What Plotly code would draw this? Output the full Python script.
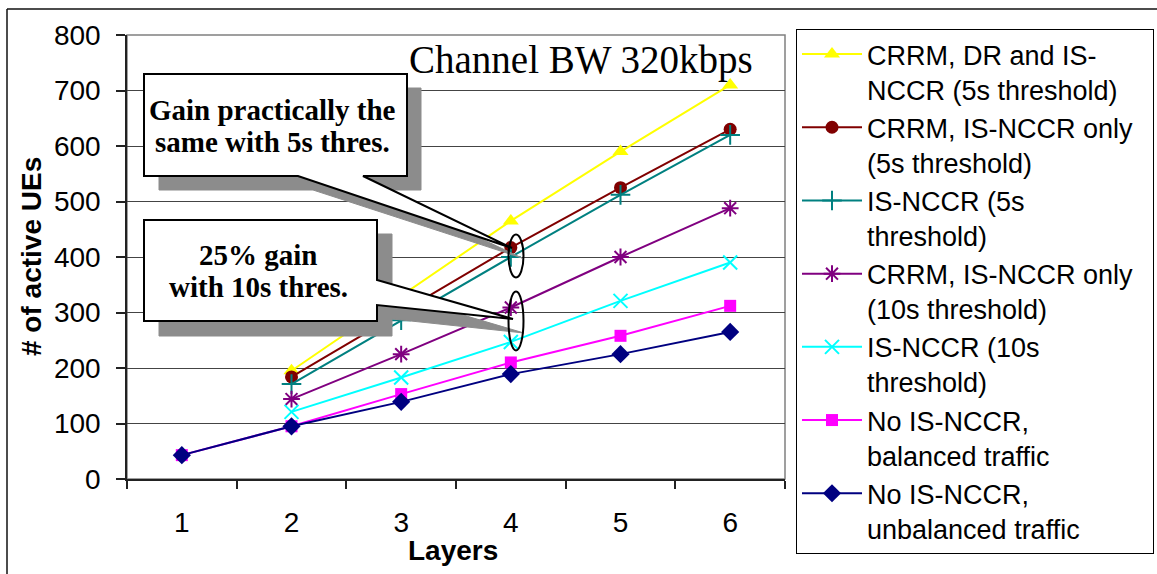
import plotly.graph_objects as go

# ---------------- data ----------------
layers = [1, 2, 3, 4, 5, 6]
tick_labels = ["1", "2", "3", "4", "5", "6"]

crrm_dr_isnccr_5s = [None, 195, 330, 465, 590, 710]
crrm_isnccr_5s = [None, 184, 300, 417, 525, 630]
isnccr_5s = [None, 171, 286, 400, 512, 620]
crrm_isnccr_10s = [None, 144, 225, 309, 400, 488]
isnccr_10s = [None, 121, 183, 247, 321, 390]
no_isnccr_balanced = [43, 95, 153, 210, 258, 312]
no_isnccr_unbalanced = [43, 95, 139, 189, 225, 265]

series_names = [
    "CRRM, DR and IS-<br>NCCR (5s threshold)",
    "CRRM, IS-NCCR only&nbsp;&nbsp;<br>(5s threshold)",
    "IS-NCCR (5s<br>threshold)",
    "CRRM, IS-NCCR only&nbsp;&nbsp;<br>(10s threshold)",
    "IS-NCCR (10s<br>threshold)",
    "No IS-NCCR,<br>balanced traffic",
    "No IS-NCCR,<br>unbalanced traffic",
]
series_values = [crrm_dr_isnccr_5s, crrm_isnccr_5s, isnccr_5s, crrm_isnccr_10s,
                 isnccr_10s, no_isnccr_balanced, no_isnccr_unbalanced]

# ---------------- styles ----------------
colors = ["#FFFF00", "#800000", "#008080", "#800080", "#00FFFF", "#FF00FF", "#000080"]
symbols = ["triangle-up", "circle", "cross-thin-open", "asterisk-open",
           "x-thin-open", "square", "diamond"]
sizes = [14, 13, 14, 14, 14, 12, 14]

W, H = 1157, 574
ML, MR, MT, MB = 127, 372, 35, 95
PW, PH = W - ML - MR, H - MT - MB
XR = (0.5, 6.5)
YR = (0, 800)

SANS = "Liberation Sans, Arial, sans-serif"
SERIF = "Liberation Serif, Times New Roman, serif"


def px2x(px):
    return XR[0] + (px - ML) / PW * (XR[1] - XR[0])


def py2y(py):
    return YR[0] + (MT + PH - py) / PH * (YR[1] - YR[0])


def ppx(px):
    return (px - ML) / PW


def ppy(py):
    return (MT + PH - py) / PH


def path(points):
    s = "M " + " L ".join(f"{px2x(a):.5f},{py2y(b):.5f}" for a, b in points) + " Z"
    return s


fig = go.Figure()
for name, vals, c, sym, sz in zip(series_names, series_values, colors, symbols, sizes):
    open_sym = sym.endswith("open")
    fig.add_trace(go.Scatter(
        x=layers, y=vals, name=name, mode="lines+markers",
        line=dict(color=c, width=2),
        marker=dict(symbol=sym, size=sz, color=c,
                    line=dict(color=c, width=2 if open_sym else 0)),
    ))

shapes = []
# plot-area frame (gray)
shapes.append(dict(type="rect", xref="paper", yref="paper", x0=0, x1=1, y0=0, y1=1,
                   line=dict(color="#808080", width=1.5), layer="below"))
# outer chart border (top and left)
shapes.append(dict(type="line", xref="paper", yref="paper", x0=ppx(7), x1=ppx(1160),
                   y0=ppy(9), y1=ppy(9), line=dict(color="#111111", width=1.5)))
shapes.append(dict(type="line", xref="paper", yref="paper", x0=ppx(7), x1=ppx(7),
                   y0=ppy(9), y1=ppy(580), line=dict(color="#111111", width=1.5)))

shadow = "#8c8c8c"
# callout 1 shadow + box
shapes.append(dict(type="path", xref="x", yref="y", layer="above",
                   path=path([(159, 88), (421, 88), (421, 190), (378, 190), (522, 258),
                              (313, 190), (159, 190)]),
                   fillcolor=shadow, line=dict(color=shadow, width=1)))
shapes.append(dict(type="path", xref="x", yref="y", layer="above",
                   path=path([(144, 74), (407, 74), (407, 176), (363, 176), (512, 248),
                              (298, 176), (144, 176)]),
                   fillcolor="white", line=dict(color="black", width=2)))
# callout 2 shadow + box
shapes.append(dict(type="path", xref="x", yref="y", layer="above",
                   path=path([(159, 234), (392, 234), (392, 294), (524, 333), (392, 319),
                              (392, 336), (159, 336)]),
                   fillcolor=shadow, line=dict(color=shadow, width=1)))
shapes.append(dict(type="path", xref="x", yref="y", layer="above",
                   path=path([(144, 220), (377, 220), (377, 280), (513, 319), (377, 305),
                              (377, 321), (144, 321)]),
                   fillcolor="white", line=dict(color="black", width=2)))
# ellipses
shapes.append(dict(type="circle", xref="x", yref="y", layer="above",
                   x0=px2x(508.5), x1=px2x(523.5), y0=py2y(277.5), y1=py2y(234.5),
                   line=dict(color="black", width=2)))
shapes.append(dict(type="circle", xref="x", yref="y", layer="above",
                   x0=px2x(508.5), x1=px2x(523.5), y0=py2y(350.5), y1=py2y(291.5),
                   line=dict(color="black", width=2)))

annotations = []


def ann(text, px, py, font, xanchor="center"):
    annotations.append(dict(text=text, xref="paper", yref="paper", x=ppx(px), y=ppy(py),
                            xanchor=xanchor, yanchor="middle", showarrow=False, font=font))


callout_font = dict(family=SERIF, size=29, color="black")
ann("<b>Gain practically the</b>", 272, 110, callout_font)
ann("<b>same with 5s thres.</b>", 272, 142, callout_font)
ann("<b>25% gain</b>", 258, 255, callout_font)
ann("<b>with 10s thres.</b>", 258, 287, callout_font)
ann("Channel BW 320kbps", 581, 60, dict(family=SERIF, size=39, color="black"))
ann("<b>Layers</b>", 453, 550, dict(family=SANS, size=28, color="black"))
annotations.append(dict(text="<b># of active UEs</b>", xref="paper", yref="paper",
                        x=ppx(31), y=ppy(257), textangle=-90, showarrow=False,
                        xanchor="center", yanchor="middle",
                        font=dict(family=SANS, size=28, color="black")))

fig.update_layout(
    width=W, height=H,
    margin=dict(l=ML, r=MR, t=MT, b=MB, pad=0, autoexpand=False),
    paper_bgcolor="white", plot_bgcolor="white",
    font=dict(family=SANS, size=27, color="black"),
    showlegend=True,
    legend=dict(x=ppx(796), y=ppy(29), xanchor="left", yanchor="top",
                bgcolor="white", bordercolor="black", borderwidth=1,
                font=dict(family=SANS, size=27, color="black"),
                itemwidth=60, valign="top", tracegroupgap=0, maxheight=560),
    shapes=shapes,
    annotations=annotations,
    xaxis=dict(range=list(XR), tickmode="array", tickvals=layers, ticktext=tick_labels,
               ticks="", showgrid=False, zeroline=False, showline=True,
               linecolor="#222222", linewidth=1.5, ticklabelstandoff=18,
               minor=dict(tickmode="array", tickvals=[0.5, 1.5, 2.5, 3.5, 4.5, 5.5, 6.5],
                          ticks="outside", ticklen=8, tickcolor="#222222", tickwidth=1.5,
                          showgrid=False),
               tickfont=dict(family=SANS, size=28)),
    yaxis=dict(range=list(YR), dtick=100, ticks="outside", ticklen=9, tickwidth=1.5,
               tickcolor="#222222", showgrid=True, gridcolor="#444444", gridwidth=1,
               zeroline=False, showline=True, linecolor="#222222", linewidth=1.5,
               ticklabelstandoff=10, tickfont=dict(family=SANS, size=28)),
)

fig.write_html("out.html")
